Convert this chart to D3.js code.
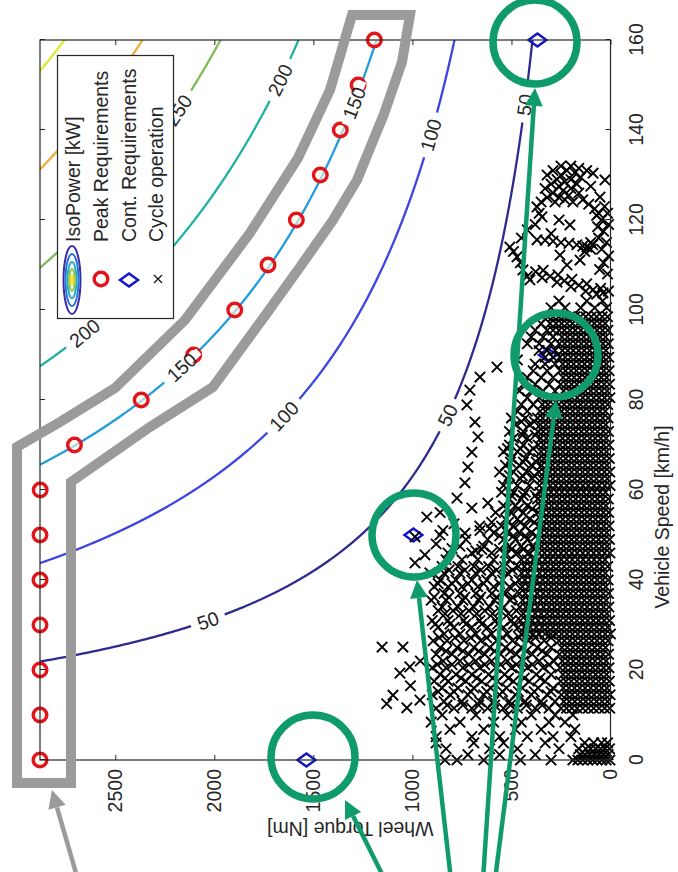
<!DOCTYPE html>
<html>
<head>
<meta charset="utf-8">
<script src="https://cdn.jsdelivr.net/npm/d3@7"></script>
<style>
  body { margin: 0; background: #fff; }
  text { font-family: "Liberation Sans", Arial, Helvetica, sans-serif; fill: #262626; }
</style>
</head>
<body>
<svg id="chart" width="678" height="872"></svg>
<script>
// ---------------- data ----------------
const speedTicks = [0, 20, 40, 60, 80, 100, 120, 140, 160];
const torqueTicks = [0, 500, 1000, 1500, 2000, 2500];
const speedMax = 160;
const torqueMax = 2880;          // Nm, top of the torque axis
const wheelRadius = 0.35;        // m, used for the iso-power curves

const powerLevels = [50, 100, 150, 200, 250, 300, 350];   // kW
const levelColors = ["#2e2b8f", "#3c44e2", "#229ddc", "#1fb2a0", "#7fbd58", "#eeae3c", "#e2ea32"];
// inline contour labels: [level kW, speed km/h]
const contourLabels = [[50, 31], [50, 76.6], [50, 145.6], [100, 76.4], [100, 138.9],
                       [150, 87.3], [150, 146], [200, 94.9], [200, 151.1], [250, 144.4]];

// peak requirements
const peakSpeed  = [0, 10, 20, 30, 40, 50, 60, 70, 80, 90, 100, 110, 120, 130, 140, 150, 160];
const peakTorque = [2880, 2880, 2880, 2880, 2880, 2880, 2879, 2706, 2369, 2104, 1897, 1729, 1586, 1465, 1364, 1274, 1192];

// continuous requirements
const contSpeed  = [0, 50, 90, 160];
const contTorque = [1535, 995, 316, 369];

// cycle operation points, grouped by speed: [speed, [torques...]]
const cycleRows = [
  [0,   [3,22,44,68,90,115,140,165,190,300,455,640,775,836]],
  [1.2, [12,35,58,80,105,128,152,380,560,720]],
  [2.5, [5,28,50,75,100,125,160,260,470,610,830]],
  [3.8, [15,45,85,130,330,540,690,880]],
  [5.2, [200,290,420,560,700,880]],
  [6.8, [180,350,480,640,810]],
  [8.4, [230,310,450,590,760,905]],
  [10,  [190,280,400,520,680,850]],
  [11.5,[4,30,58,85,112,140,168,195,222,250,310,380,470,540,620,700,790,880]],
  [13,  [15,43,70,98,125,152,180,208,236,280,350,430,510,590,660,750,840]],
  [14.5,[2,28,55,83,110,138,165,193,220,248,320,400,480,560,640,720,810,900]],
  [16,  [18,45,72,100,128,155,182,210,238,290,365,445,525,605,690,770,850]],
  [17.5,[6,33,60,88,115,143,170,198,225,252,330,410,490,570,650,730,820,890]],
  [19,  [20,48,75,103,130,158,185,213,240,300,375,455,535,615,700,780,860]],
  [20.5,[8,35,63,90,118,145,173,200,228,255,340,420,500,580,660,745,830,900]],
  [22,  [22,50,78,105,133,160,188,215,243,285,360,440,520,600,680,760,845]],
  [23.5,[10,38,65,93,120,148,175,203,230,258,320,395,475,555,635,715,800,880]],
  [25,  [25,52,80,108,135,163,190,218,245,300,370,450,530,610,690,775,860]],
  [26.5,[12,40,68,95,123,150,178,205,233,260,335,415,495,575,655,740,825,895]],
  [28,  [0,27,55,82,110,137,165,192,220,247,275,302,330,360,390,420,450,520,600,680,760,840]],
  [29.5,[14,42,70,97,125,152,180,207,235,262,290,318,345,375,405,435,465,540,620,700,790,870]],
  [31,  [5,32,60,87,115,142,170,197,225,252,280,308,335,365,395,425,455,500,580,660,740,820,900]],
  [32.5,[18,45,73,100,128,155,183,210,238,265,293,320,350,380,410,440,515,595,675,755,835]],
  [34,  [8,35,63,90,118,145,173,200,228,255,283,310,338,368,398,428,458,540,610,690,770,850]],
  [35.5,[22,50,77,105,132,160,187,215,242,270,297,325,353,383,413,443,505,585,665,745,830,905]],
  [37,  [10,37,65,92,120,147,175,202,230,257,285,312,340,370,400,430,460,530,600,680,760,840]],
  [38.5,[24,52,79,107,134,162,189,217,244,272,299,327,355,385,415,445,510,590,670,750,820,890]],
  [40,  [12,40,67,95,122,150,177,205,232,260,287,315,342,372,402,432,462,545,625,700,780,860]],
  [41.5,[26,53,81,108,136,163,191,218,246,273,301,328,358,388,418,448,520,600,680,760,840]],
  [43,  [14,42,69,97,124,152,179,207,234,262,289,317,345,375,405,435,465,535,615,690,770,850]],
  [44.5,[28,55,83,110,138,165,193,220,248,275,303,330,360,390,420,450,510,590,670,750,830]],
  [46,  [3,30,58,85,113,140,168,195,223,250,278,305,333,360,410,470,530,600,700,820]],
  [47.5,[17,44,72,99,127,154,182,209,237,264,292,319,347,390,450,510,640,760]],
  [49,  [5,32,60,87,115,142,170,197,225,252,280,307,335,362,420,480,540,620,730]],
  [50.5,[19,46,74,101,129,156,184,211,239,266,294,321,349,400,460,520,590]],
  [52,  [7,34,62,89,117,144,172,199,227,254,282,309,337,364,430,490,550,660]],
  [53.5,[21,48,76,103,131,158,186,213,241,268,296,323,351,410,470,530]],
  [55,  [9,36,64,91,119,146,174,201,229,256,284,311,339,366,440,500,580]],
  [56.5,[23,50,78,105,133,160,188,215,243,270,298,325,353,420,480,540]],
  [58,  [11,38,66,93,121,148,176,203,231,258,286,313,341,368,450,510]],
  [59.5,[25,52,80,107,135,162,190,217,245,272,300,327,355,430,490,550]],
  [61,  [2,29,57,84,112,139,167,194,222,249,277,304,332,359,410,470,540]],
  [62.5,[16,43,71,98,126,153,181,208,236,263,291,318,346,395,455,520]],
  [64,  [4,31,59,86,114,141,169,196,224,251,279,306,334,361,420,490,560]],
  [65.5,[18,45,73,100,128,155,183,210,238,265,293,320,348,400,460,530]],
  [67,  [6,33,61,88,116,143,171,198,226,253,281,308,336,363,430,500]],
  [68.5,[20,47,75,102,130,157,185,212,240,267,295,322,350,410,470,540]],
  [70,  [8,35,63,90,118,145,173,200,228,255,283,310,338,365,440,510]],
  [71.5,[22,49,77,104,132,159,187,214,242,269,297,324,352,420,490]],
  [73,  [10,37,65,92,120,147,175,202,230,257,285,312,340,367,440,510]],
  [74.5,[24,51,79,106,134,161,189,216,244,271,299,326,354,410,480]],
  [76,  [12,39,67,94,122,149,177,204,232,259,287,314,342,369,430,500]],
  [77.5,[26,53,81,108,136,163,191,218,246,273,301,328,356,420,470]],
  [79,  [14,41,69,96,124,151,179,206,234,261,289,316,344,390,450]],
  [80.5,[3,30,58,85,113,140,168,195,223,250,300,360,420]],
  [82,  [17,44,72,99,127,154,182,209,237,280,340,400,460]],
  [83.5,[5,32,60,87,115,142,170,197,225,252,310,380,440]],
  [85,  [19,46,74,101,129,156,184,211,239,290,350,420]],
  [86.5,[7,34,62,89,117,144,172,199,227,254,320,390]],
  [88,  [21,48,76,103,131,158,186,213,241,280,330,380]],
  [89.5,[9,36,64,91,119,146,174,201,229,256,290,330]],
  [91,  [23,50,78,105,133,160,188,215,243,280,320,360]],
  [92.5,[11,38,66,93,121,148,176,203,231,258,300,360,420]],
  [94,  [25,52,80,107,135,162,190,217,245,290,340,400]],
  [95.5,[13,40,68,95,123,150,178,205,233,260,290,320,380]],
  [97,  [27,54,82,109,137,164,192,219,247,275,305,350]],
  [98.5,[15,42,70,97,125,152,180,207,235,262,290,318]],
  [100.5,[20,80,150,230,300]],
  [102, [40,120,260]]
];

// extra samples filling the mid-torque part of the urban phase
const cycleRowsMid = [
  [12.2, [345,425,505,585,665,745,825]],
  [15.2, [300,385,465,545,625,705,790,870]],
  [18.2, [355,435,515,595,675,755,835]],
  [21.2, [310,395,475,555,635,715,800,875]],
  [24.2, [345,425,505,585,665,745,830]],
  [27.2, [300,380,460,545,625,705,785,865]],
  [30.2, [490,570,650,730,810,885]],
  [33.2, [475,555,635,715,795,870]],
  [36.2, [495,575,655,735,815,890]],
  [39.2, [480,560,640,720,800,870]],
  [42.2, [495,575,655,735,815]],
  [46.8, [385,440,500,560,650]],
  [49.8, [375,430,490,560]],
  [52.8, [385,455,515,600]],
  [55.8, [395,465,525]],
  [58.8, [380,440,500]],
  [63.2, [385,445,510]],
  [66.2, [375,440,505]],
  [69.2, [390,455,520]],
  [72.2, [380,445]],
  [75.2, [385,450]]
];

// cycle operation points outside the dense band: [speed, torque]
const cycleScatter = [
  [11.6,1028],[13.3,962],[14.4,1098],[19.3,1063],[20.7,1013],[25.1,1048],[25.1,1153],[16.5,1010],[22,960],[12.5,1130],
  [54,927],[50,861],[49.6,987],[45.6,937],[43.8,987],[41.6,912],[51,846],[50.4,735],[51,659],[51.5,609],
  [58.2,775],[56,700],[57.1,619],[61.6,735],[65.1,720],[68.4,700],[71.8,669],[75.1,684],[78.9,725],
  [82.2,710],[85.1,659],[87.3,573],[88.9,470],[47,800],[48,880],[52.5,790],[46.5,680],[55,860],
  // upper cluster around 125-132 km/h
  [132,200],[132,250],[131.5,160],[131,220],[131,290],[130.5,180],[130,250],[130,320],[129.5,150],[129,200],
  [129,270],[128.5,230],[128,170],[128,300],[127.5,260],[127,200],[127,330],[126.5,240],[126,160],[126,290],
  [125.5,210],[125,260],[125,320],[124.5,230],[124,190],[124,280],
  [130.4,88],[128.9,28],[125.1,53],[131,120],[127.5,100],
  // loop between 104 and 124 km/h
  [124,350],[122.9,371],[121.5,360],[120.7,346],[119,380],[117.8,420],[116,450],[114,508],[113,490],[111.8,472],
  [110.5,455],[108.9,442],[107.5,420],[106.7,407],
  [124.5,140],[123.5,110],[122.5,80],[121.5,60],
  [123,30],[121.5,15],[120,45],[119,10],[117.5,35],[116,60],[115,20],[113.5,45],[112,10],[110.5,35],[109,55],[108,15],[118.5,65],[121,70],
  [115.6,371],[115.5,330],[115.3,290],[115,250],[114.8,210],[114.5,170],[114.2,140],[114,119],[113.5,100],[114.5,90],[113,130],[115,100],
  [118.9,205],[111.1,154],[112.2,255],[120,260],[117,300],[110,220],
  [103.8,38],[103.5,70],[104.2,10],[104.5,88],[104.8,50],[104.2,125],[105.5,160],[105.8,120],[105.2,200],
  [106.5,233],[106.8,195],[106.2,270],[107.5,305],[107.8,265],[107.2,345],[108.5,378],[108.8,340]
];

// ---------------- layout ----------------
const svg = d3.select("#chart");
const frame = { left: 40, top: 40, right: 610.5, bottom: 760 };
const plotLen = frame.bottom - frame.top;     // speed direction
const plotDepth = frame.right - frame.left;   // torque direction

const xSpeed = d3.scaleLinear().domain([0, speedMax]).range([0, plotLen]);
const yTorque = d3.scaleLinear().domain([0, torqueMax]).range([plotDepth, 0]);

// page coordinates of a (speed, torque) pair
const px = T => frame.left + yTorque(T);
const py = v => frame.bottom - xSpeed(v);

const ink = "#262626";
const fontSize = 19.5;

// the whole axes are turned a quarter turn counter-clockwise
const plot = svg.append("g")
  .attr("transform", `translate(${frame.left},${frame.bottom}) rotate(-90)`);

// iso-power curves: torque = P * 3.6 * r / v
const kTorque = 3600 * wheelRadius;
const isoLine = d3.line().x(d => xSpeed(d[0])).y(d => yTorque(d[1]));
powerLevels.forEach((P, i) => {
  const vStart = P * kTorque / torqueMax;
  const speeds = d3.range(vStart, speedMax, 0.25).concat([speedMax]);
  const pts = speeds.map(v => [v, P * kTorque / v]);
  plot.append("path")
    .attr("d", isoLine(pts))
    .attr("fill", "none")
    .attr("stroke", levelColors[i])
    .attr("stroke-width", 2.3);
});

// contour labels (drawn upright in page space, following the curve)
const labelLayer = svg.append("g");
contourLabels.forEach(([P, v]) => {
  const T = P * kTorque / v;
  const x = px(T), y = py(v);
  const x1 = px(P * kTorque / (v - 1)), y1 = py(v - 1);
  const x2 = px(P * kTorque / (v + 1)), y2 = py(v + 1);
  const ang = Math.atan2(y2 - y1, x2 - x1) * 180 / Math.PI;
  const g = labelLayer.append("g").attr("transform", `translate(${x},${y}) rotate(${ang})`);
  const gap = g.append("rect").attr("fill", "#fff");
  const t = g.append("text")
    .attr("text-anchor", "middle")
    .attr("dy", "0.36em")
    .style("font-size", fontSize + "px")
    .text(P);
  const w = t.node().getComputedTextLength() + 14;
  gap.attr("x", -w / 2).attr("y", -4).attr("width", w).attr("height", 8);
});

// cycle operation crosses
const cyclePts = [];
cycleRows.forEach(([v, ts]) => ts.forEach(T => cyclePts.push([v, T])));
cycleRowsMid.forEach(([v, ts]) => ts.forEach(T => cyclePts.push([v, T])));
cycleScatter.forEach(p => cyclePts.push(p));

// peak requirements
plot.append("g").selectAll("circle")
  .data(peakSpeed.map((v, i) => [v, peakTorque[i]]))
  .join("circle")
  .attr("cx", d => xSpeed(d[0]))
  .attr("cy", d => yTorque(d[1]))
  .attr("r", 6.8)
  .attr("fill", "#fffbe8")
  .attr("fill-opacity", 0.6)
  .attr("stroke", "#e3141c")
  .attr("stroke-width", 3.4);

// continuous requirements
const diamond = "M0,-9L6.5,0L0,9L-6.5,0Z";
plot.append("g").selectAll("path")
  .data(contSpeed.map((v, i) => [v, contTorque[i]]))
  .join("path")
  .attr("d", diamond)
  .attr("transform", d => `translate(${xSpeed(d[0])},${yTorque(d[1])})`)
  .attr("fill", "none")
  .attr("stroke", "#1212c8")
  .attr("stroke-width", 2.4);

const cross = "M-5.2,-5.2L5.2,5.2M-5.2,5.2L5.2,-5.2";
plot.append("g").selectAll("path")
  .data(cyclePts)
  .join("path")
  .attr("d", cross)
  .attr("transform", d => `translate(${xSpeed(d[0])},${yTorque(d[1])})`)
  .attr("fill", "none")
  .attr("stroke", "#000")
  .attr("stroke-width", 1.9);

// axes box and ticks
plot.append("rect")
  .attr("x", 0).attr("y", 0).attr("width", plotLen).attr("height", plotDepth)
  .attr("fill", "none").attr("stroke", ink).attr("stroke-width", 1.2);

const numFmt = d3.format("d");
plot.append("g")
  .attr("transform", `translate(0,${plotDepth})`)
  .call(d3.axisBottom(xSpeed).tickValues(speedTicks).tickFormat(numFmt)
    .tickSizeInner(-5).tickSizeOuter(0).tickPadding(19));
plot.append("g")
  .call(d3.axisLeft(yTorque).tickValues(torqueTicks).tickFormat(numFmt)
    .tickSizeInner(-5).tickSizeOuter(0).tickPadding(9));
plot.append("g")
  .call(d3.axisTop(xSpeed).tickValues(speedTicks).tickSizeInner(-5).tickSizeOuter(0).tickFormat(""));
plot.append("g")
  .attr("transform", `translate(${plotLen},0)`)
  .call(d3.axisRight(yTorque).tickValues(torqueTicks).tickSizeInner(-5).tickSizeOuter(0).tickFormat(""));
plot.selectAll(".domain").remove();
plot.selectAll(".tick line").attr("stroke", ink);
plot.selectAll(".tick text").style("font-size", fontSize + "px").attr("fill", ink);

// axis titles
plot.append("text")
  .attr("x", xSpeed(54)).attr("y", plotDepth + 58)
  .attr("text-anchor", "middle")
  .style("font-size", fontSize + "px")
  .text("Vehicle Speed [km/h]");
plot.append("text")
  .attr("transform", `translate(-62,${plotDepth / 2 + 25}) rotate(-90)`)
  .attr("text-anchor", "middle")
  .style("font-size", fontSize + "px")
  .text("Wheel Torque [Nm]");

// legend (page space)
const legend = svg.append("g");
legend.append("rect")
  .attr("x", 57.5).attr("y", 55.5).attr("width", 116).attr("height", 263)
  .attr("fill", "#fff").attr("stroke", ink).attr("stroke-width", 1.2);
const legendItems = ["IsoPower [kW]", "Peak Requirements", "Cont. Requirements", "Cycle operation"];
const legendBase = [80, 108, 136, 163];
legendItems.forEach((name, i) => {
  legend.append("text")
    .attr("transform", `translate(${legendBase[i]},242) rotate(-90)`)
    .style("font-size", fontSize + "px")
    .text(name);
});
// iso-power icon: nested rings
const ringSizes = [[8.5, 34], [6.5, 26], [4.5, 18], [2.8, 11], [1.3, 5]];
const ringColors = ["#3a2f9e", "#2d6fe0", "#22b0b8", "#8cc45a", "#f0e43a"];
ringSizes.forEach(([rx, ry], i) => {
  legend.append("ellipse")
    .attr("cx", 72).attr("cy", 280).attr("rx", rx).attr("ry", ry)
    .attr("fill", i === ringSizes.length - 1 ? ringColors[i] : "none")
    .attr("stroke", ringColors[i]).attr("stroke-width", 2);
});
legend.append("circle").attr("cx", 101).attr("cy", 279).attr("r", 6.8)
  .attr("fill", "none").attr("stroke", "#e3141c").attr("stroke-width", 3.4);
legend.append("path").attr("d", "M120,280L129,273.5L138,280L129,286.5Z")
  .attr("fill", "none").attr("stroke", "#1212c8").attr("stroke-width", 2.4);
legend.append("path").attr("d", "M154,275L162,283M154,283L162,275")
  .attr("stroke", "#111").attr("stroke-width", 1.2);

// ---------------- highlight annotations ----------------
const note = svg.append("g");
const bandPath = [
  [17, 783], [17, 447], [60, 422], [115, 388], [185, 320], [250, 233], [298, 158], [330, 90], [352, 15],
  [410, 15], [402, 62], [384, 114], [357, 180], [333, 220], [300, 267], [267, 313], [213, 387],
  [150, 427], [71, 482], [71, 783]
];
note.append("path")
  .attr("d", d3.line()(bandPath) + "Z")
  .attr("fill", "none").attr("stroke", "#9b9b9b").attr("stroke-width", 10)
  .attr("stroke-linejoin", "miter");

const green = "#0f9b6c";
const rings = [[535, 42], [556, 355], [414, 535], [313, 757]];
rings.forEach(([cx, cy]) => {
  note.append("circle").attr("cx", cx).attr("cy", cy).attr("r", 42)
    .attr("fill", "none").attr("stroke", green).attr("stroke-width", 7.5);
});

function arrow(x0, y0, x1, y1, color, width) {
  const dx = x1 - x0, dy = y1 - y0, len = Math.hypot(dx, dy);
  const ux = dx / len, uy = dy / len, head = 18, half = 9;
  const bx = x1 - ux * head, by = y1 - uy * head;
  note.append("line").attr("x1", x0).attr("y1", y0).attr("x2", bx).attr("y2", by)
    .attr("stroke", color).attr("stroke-width", width);
  note.append("path")
    .attr("d", `M${x1},${y1}L${bx - uy * half},${by + ux * half}L${bx + uy * half},${by - ux * half}Z`)
    .attr("fill", color);
}
arrow(385, 880, 345, 800, green, 4.5);
arrow(451, 880, 417, 580, green, 4.5);
arrow(483, 880, 535, 88, green, 4.5);
arrow(495, 880, 556, 400, green, 4.5);
arrow(78, 880, 52, 790, "#9b9b9b", 4.5);
</script>
</body>
</html>
